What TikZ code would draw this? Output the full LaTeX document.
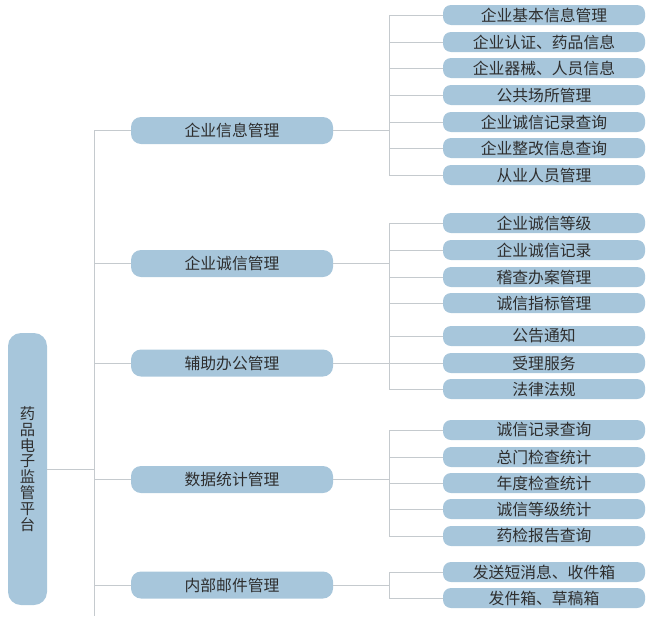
\documentclass[tikz,border=0pt]{standalone}
\usepackage{fontspec}
\setmainfont{Noto Sans CJK SC}
\usetikzlibrary{calc}
\definecolor{boxfill}{HTML}{A7C6DB}
\definecolor{linecol}{HTML}{C5CACE}
\definecolor{txt}{HTML}{2E2E2E}
\tikzset{
  box/.style={rectangle, fill=boxfill, text=txt, inner sep=0pt, font=\fontsize{15.8}{17}\selectfont},
  leaf/.style={box, minimum width=202pt, minimum height=20pt, rounded corners=8pt},
  mid/.style={box, minimum width=202pt, minimum height=27pt, rounded corners=10pt},
  rootbox/.style={box, minimum width=39pt, minimum height=272pt, rounded corners=13pt, align=center, font=\fontsize{15.3}{15.8}\selectfont},
  conn/.style={draw=linecol, line width=1pt}
}
\begin{document}
\begin{tikzpicture}[x=1pt,y=-1pt]
\useasboundingbox (0,0) rectangle (655,616);
% root
\node[rootbox] (root) at (27.5,469) {药\\品\\电\\子\\监\\管\\平\\台};
% trunk coordinates
\coordinate (t1) at (94,0);
\coordinate (t2) at (389,0);
\coordinate (tend) at (94,616);
% middle
\node[mid] (m1) at (232,130.5) {企业信息管理};
\node[mid] (m2) at (232,263.5) {企业诚信管理};
\node[mid] (m3) at (232,363) {辅助办公管理};
\node[mid] (m4) at (232,479.5) {数据统计管理};
\node[mid] (m5) at (232,585) {内部邮件管理};
% leaves
\node[leaf] (a1) at (544,15) {企业基本信息管理};
\node[leaf] (a2) at (544,42) {企业认证、药品信息};
\node[leaf] (a3) at (544,68) {企业器械、人员信息};
\node[leaf] (a4) at (544,95) {公共场所管理};
\node[leaf] (a5) at (544,122) {企业诚信记录查询};
\node[leaf] (a6) at (544,148) {企业整改信息查询};
\node[leaf] (a7) at (544,175) {从业人员管理};
\node[leaf] (b1) at (544,223) {企业诚信等级};
\node[leaf] (b2) at (544,250) {企业诚信记录};
\node[leaf] (b3) at (544,277) {稽查办案管理};
\node[leaf] (b4) at (544,303) {诚信指标管理};
\node[leaf] (c1) at (544,336) {公告通知};
\node[leaf] (c2) at (544,363) {受理服务};
\node[leaf] (c3) at (544,389) {法律法规};
\node[leaf] (d1) at (544,430) {诚信记录查询};
\node[leaf] (d2) at (544,457) {总门检查统计};
\node[leaf] (d3) at (544,483) {年度检查统计};
\node[leaf] (d4) at (544,509) {诚信等级统计};
\node[leaf] (d5) at (544,536) {药检报告查询};
\node[leaf] (e1) at (544,572) {发送短消息、收件箱};
\node[leaf] (e2) at (544,598) {发件箱、草稿箱};
% root to trunk
\draw[conn] (root.east |- 0,469) -- (t1 |- 0,469);
\draw[conn] (t1 |- m1.west) -- (tend);
\foreach \m in {m1,m2,m3,m4,m5} {
  \draw[conn] (t1 |- \m.west) -- (\m.west);
  \draw[conn] (\m.east) -- (t2 |- \m.east);
}
% second-level trunks
\draw[conn] (t2 |- a1.west) -- (t2 |- a7.west);
\draw[conn] (t2 |- b1.west) -- (t2 |- c3.west);
\draw[conn] (t2 |- d1.west) -- (t2 |- d5.west);
\draw[conn] (t2 |- e1.west) -- (t2 |- e2.west);
\foreach \l in {a1,a2,a3,a4,a5,a6,a7,b1,b2,b3,b4,c1,c2,c3,d1,d2,d3,d4,d5,e1,e2} {
  \draw[conn] (t2 |- \l.west) -- (\l.west);
}
\end{tikzpicture}
\end{document}
